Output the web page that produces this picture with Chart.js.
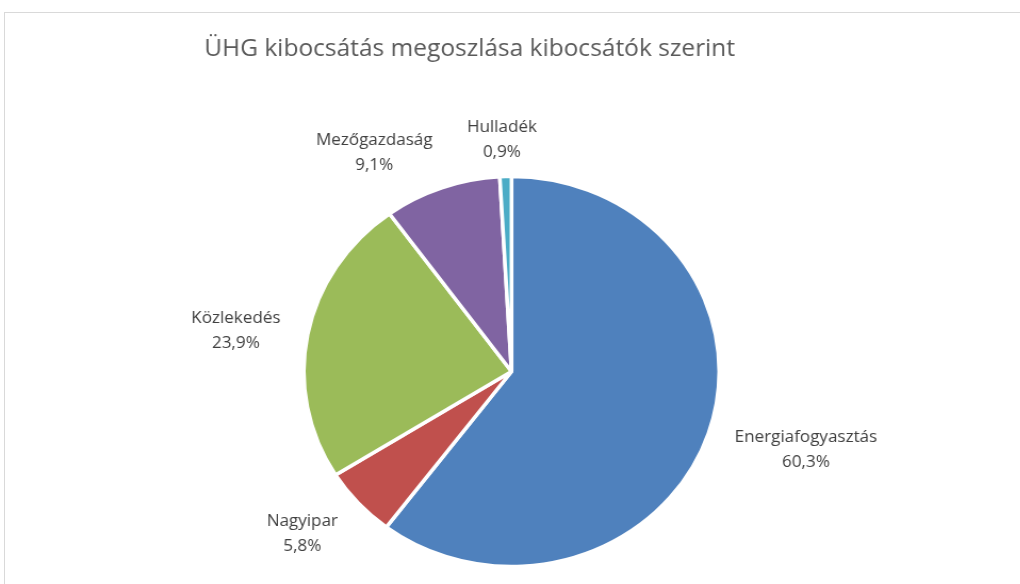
<!DOCTYPE html>
<html>
<head>
<meta charset="utf-8">
<script src="https://cdn.jsdelivr.net/npm/chart.js@4"></script>
<style>
  html, body { margin: 0; padding: 0; background: #ffffff; overflow: hidden; }
  #frame { position: absolute; left: 4px; top: 12px; width: 1030px; height: 600px;
           border-top: 1px solid #d9d9d9; border-left: 1px solid #d9d9d9; box-sizing: border-box; }
  #wrap { position: absolute; left: 0; top: 0; width: 958px; height: 584px;
          transform: scaleX(1.065); transform-origin: 0 0; }
</style>
</head>
<body>
<div id="frame"></div>
<div id="wrap"><canvas id="c" width="958" height="584"></canvas></div>
<script>
const chartTitle = "ÜHG kibocsátás megoszlása kibocsátók szerint";
const categories = ["Energiafogyasztás", "Nagyipar", "Közlekedés", "Mezőgazdaság", "Hulladék"];
const shares = [60.3, 5.8, 23.9, 9.1, 0.9];
const shareLabels = ["60,3%", "5,8%", "23,9%", "9,1%", "0,9%"];
const sliceColors = ["#4F81BD", "#C0504D", "#9BBB59", "#8064A2", "#4BACC6"];

const labelPlugin = {
  id: 'outsideLabels',
  afterDatasetsDraw(chart) {
    const ctx = chart.ctx;
    const meta = chart.getDatasetMeta(0);
    ctx.save();
    ctx.font = '16px "Open Sans"';
    ctx.fillStyle = '#404040';
    ctx.textBaseline = 'middle';
    ctx.textAlign = 'center';
    const lineH = 25;
    meta.data.forEach((arc, i) => {
      const p = arc.getProps(['x', 'y', 'startAngle', 'endAngle', 'outerRadius'], true);
      const mid = (p.startAngle + p.endAngle) / 2;
      const cx0 = Math.cos(mid), cy0 = Math.sin(mid);
      const w = Math.max(ctx.measureText(categories[i]).width, ctx.measureText(shareLabels[i]).width);
      const h = lineH * 2;
      const px = p.x + cx0 * (p.outerRadius + 26);
      const py = p.y + cy0 * (p.outerRadius + 12);
      const k = Math.max(-1, Math.min(1, cx0 * 3));
      const bx = px + k * w / 2;
      const by = py + cy0 * h / 2 + 4 * (1 - Math.abs(cy0)) + (cy0 > 0 ? 6 * cy0 : 0);
      ctx.fillText(categories[i], bx, by - lineH / 2);
      ctx.fillText(shareLabels[i], bx, by + lineH / 2);
    });
    ctx.restore();
  },
  afterDraw(chart) {
    const ctx = chart.ctx;
    ctx.save();
    ctx.font = '23px "Open Sans"';
    ctx.fillStyle = '#595959';
    ctx.textAlign = 'center';
    ctx.textBaseline = 'alphabetic';
    ctx.fillText(chartTitle, 441, 56);
    ctx.restore();
  }
};

new Chart(document.getElementById('c'), {
  type: 'pie',
  data: {
    labels: categories,
    datasets: [{
      data: shares,
      backgroundColor: sliceColors,
      borderColor: '#ffffff',
      borderWidth: 3.5,
      hoverOffset: 0
    }]
  },
  options: {
    responsive: false,
    animation: false,
    devicePixelRatio: 1,
    radius: 195,
    layout: { padding: { left: 2.6, right: 0, top: 159, bottom: 0 } },
    plugins: {
      legend: { display: false },
      title: { display: false },
      tooltip: { enabled: false }
    }
  },
  plugins: [labelPlugin]
});
</script>
</body>
</html>
